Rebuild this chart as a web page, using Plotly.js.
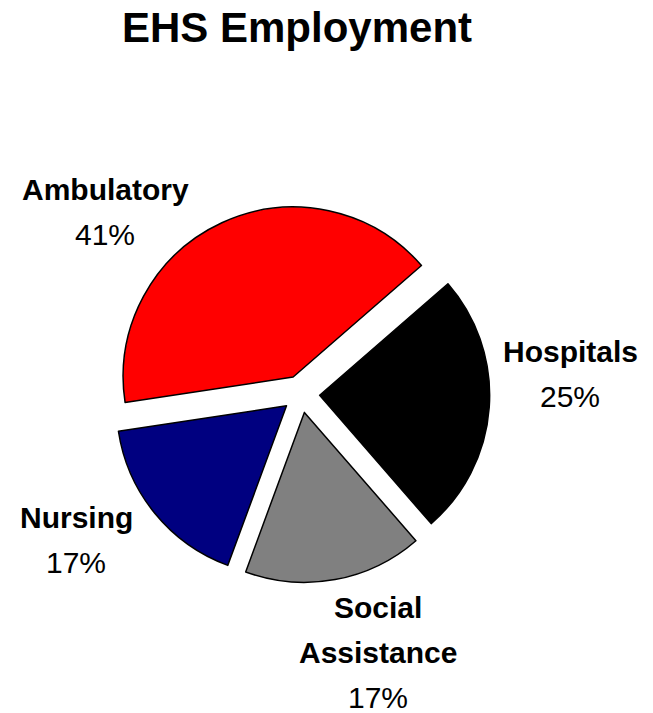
<!DOCTYPE html>
<html>
<head>
<meta charset="utf-8">
<script src="https://cdn.plot.ly/plotly-3.0.1.min.js"></script>
<style>html,body{margin:0;padding:0;background:#fff;}#chart{width:653px;height:713px;}</style>
</head>
<body>
<div id="chart"></div>
<script>
// Data (clockwise order starting from the upper-right)
var categories = ["Hospitals", "Social Assistance", "Nursing", "Ambulatory"];
var labelLines = [["Hospitals"], ["Social", "Assistance"], ["Nursing"], ["Ambulatory"]];
var values = [25, 17, 17, 41];
var colors = ["#000000", "#808080", "#000080", "#FF0000"];

// label anchor positions (pixels: center x, baseline of first line)
var labelPos = [[570, 362], [378, 618], [76, 528], [105, 200]];

var W = 653, H = 713;
var FONT = "Liberation Sans, Arial, sans-serif";
var total = values.reduce(function (a, b) { return a + b; }, 0);

var annotations = [];
var LINE = 45, FS = 30;
categories.forEach(function (c, i) {
  var lines = labelLines[i].map(function (t) { return "<b>" + t + "</b>"; });
  lines.push(Math.round(values[i] / total * 100) + "%");
  lines.forEach(function (t, j) {
    var base = labelPos[i][1] + j * LINE;
    annotations.push({
      text: t, showarrow: false, xref: "paper", yref: "paper",
      x: labelPos[i][0] / W, y: 1 - (base - 0.36 * FS) / H,
      xanchor: "center", yanchor: "middle",
      font: {family: FONT, size: FS, color: "#000"}
    });
  });
});

var cx = 301, cy = 394, r = 170, pull = 0.11;
var half = r * (1 + pull);

var trace = {
  type: "pie",
  labels: categories,
  values: values,
  sort: false,
  direction: "clockwise",
  rotation: 49,
  pull: 0.11,
  textinfo: "none",
  hoverinfo: "label+percent",
  marker: {colors: colors, line: {color: "#000000", width: 1.5}},
  domain: {x: [(cx - half) / W, (cx + half) / W], y: [1 - (cy + half) / H, 1 - (cy - half) / H]},
  showlegend: false
};

var layout = {
  width: W, height: H,
  margin: {l: 0, r: 0, t: 0, b: 0},
  paper_bgcolor: "#ffffff",
  showlegend: false,
  title: {
    text: "<b>EHS Employment</b>",
    font: {family: FONT, size: 42, color: "#000"},
    x: 297 / W, xanchor: "center",
    y: 1 - 27 / H, yanchor: "middle", yref: "container"
  },
  annotations: annotations
};

Plotly.newPlot("chart", [trace], layout, {displayModeBar: false, staticPlot: true});
</script>
</body>
</html>
